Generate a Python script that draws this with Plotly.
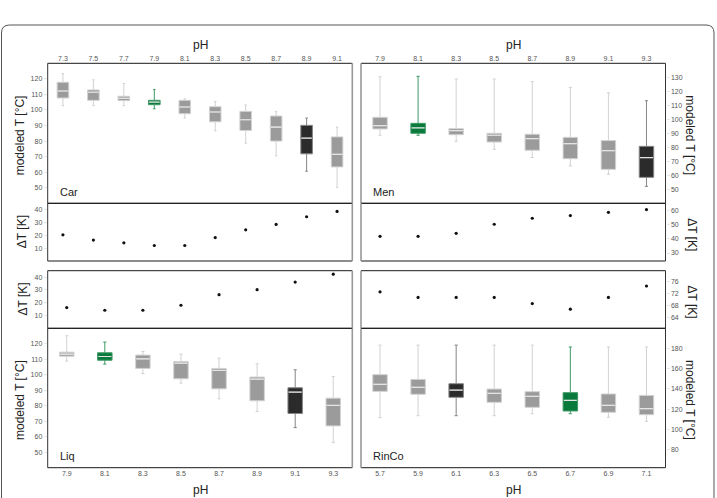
import plotly.graph_objects as go

# ---------------- DATA ----------------
car_ph = ["7.3", "7.5", "7.7", "7.9", "8.1", "8.3", "8.5", "8.7", "8.9", "9.1"]
car_hi = [123.4, 119.4, 117.0, 113.1, 107.1, 105.4, 103.2, 98.9, 94.8, 89.0]
car_q3 = [117.8, 112.9, 108.8, 106.2, 106.2, 102.1, 99.1, 96.1, 90.1, 82.7]
car_med = [112.2, 111.4, 107.5, 105.1, 101.9, 98.7, 93.7, 89.0, 81.9, 71.5]
car_q1 = [107.7, 106.2, 106.0, 103.4, 97.6, 92.4, 86.8, 80.0, 71.8, 63.4]
car_lo = [102.8, 102.8, 102.8, 100.8, 94.8, 86.6, 78.6, 70.5, 60.6, 50.2]
car_dt = [20.4, 16.3, 14.2, 12.1, 12.1, 18.3, 24.3, 28.5, 34.5, 38.7]
car_cls = ["g", "g", "g", "G", "g", "g", "g", "g", "d", "g"]

men_ph = ["7.9", "8.1", "8.3", "8.5", "8.7", "8.9", "9.1", "9.3"]
men_hi = [130.2, 130.5, 128.6, 128.6, 126.7, 122.6, 118.8, 113.1]
men_q3 = [101.3, 97.0, 93.2, 89.9, 89.2, 87.0, 84.7, 80.6]
men_med = [95.3, 93.7, 91.8, 88.5, 86.1, 82.5, 77.5, 72.6]
men_q1 = [93.0, 89.9, 88.9, 83.7, 77.8, 71.8, 64.2, 58.5]
men_lo = [88.5, 88.5, 84.2, 78.5, 72.6, 66.6, 60.7, 52.1]
men_dt = [41.7, 41.7, 43.8, 50.2, 54.4, 56.3, 58.6, 60.5]
men_cls = ["g", "G", "g", "g", "g", "g", "g", "d"]

liq_ph = ["7.9", "8.1", "8.3", "8.5", "8.7", "8.9", "9.1", "9.3"]
liq_hi = [125.2, 121.1, 115.0, 113.3, 110.7, 107.1, 103.2, 98.9]
liq_q3 = [114.6, 114.2, 112.7, 108.6, 104.1, 98.5, 91.6, 84.9]
liq_med = [113.3, 111.8, 110.3, 107.5, 102.8, 97.2, 88.8, 80.2]
liq_q1 = [112.0, 109.4, 104.1, 97.4, 90.9, 83.2, 75.0, 67.0]
liq_lo = [108.8, 106.9, 100.8, 94.6, 84.5, 76.3, 65.9, 56.2]
liq_dt = [16.2, 14.1, 14.1, 18.0, 26.3, 30.2, 36.1, 42.3]
liq_cls = ["g", "G", "g", "g", "g", "g", "d", "g"]

rin_ph = ["5.7", "5.9", "6.1", "6.3", "6.5", "6.7", "6.9", "7.1"]
rin_hi = [183.6, 183.6, 183.6, 183.6, 183.6, 181.7, 181.7, 181.7]
rin_q3 = [154.2, 149.5, 145.2, 139.9, 137.3, 136.3, 135.0, 133.6]
rin_med = [144.6, 141.6, 138.9, 135.6, 132.6, 128.7, 123.7, 120.4]
rin_q1 = [137.6, 134.7, 131.7, 126.7, 121.7, 118.1, 116.8, 114.4]
rin_lo = [111.5, 113.4, 113.4, 113.4, 115.4, 115.4, 111.8, 107.8]
rin_dt = [72.6, 70.7, 70.7, 70.7, 68.6, 66.7, 70.7, 74.6]
rin_cls = ["g", "g", "d", "g", "g", "G", "g", "g"]

# ---------------- STYLE ----------------
W, H = 717, 498
FONT = "Liberation Sans, Arial, sans-serif"
FILL = {"g": "#9b9b9b", "G": "#0a7a3c", "d": "#2b2b2b"}
WHISK = {"g": "#d2d2d2", "G": "#3f9a66", "d": "#858585"}
MEDC = "#e4e4e4"
BOXW = 0.38


def px(x):
    return x / W


def py(y):
    return 1 - y / H


LX = (47.7, 352.3)
RX = (361.0, 665.5)
R_TOPBOX = (63.3, 203.3)
R_TOPDT = (203.3, 261.0)
R_BOTDT = (270.7, 328.3)
R_BOTBOX = (328.3, 467.7)

fig = go.Figure()

panels = [
    dict(name="Car", ph=car_ph, hi=car_hi, q3=car_q3, med=car_med, q1=car_q1, lo=car_lo, dt=car_dt, cls=car_cls,
         xr=LX, brow=R_TOPBOX, drow=R_TOPDT, brange=[40, 130], bticks=list(range(50, 121, 10)),
         drange=[0, 45], dticks=[10, 20, 30, 40], side="left", xside="top"),
    dict(name="Men", ph=men_ph, hi=men_hi, q3=men_q3, med=men_med, q1=men_q1, lo=men_lo, dt=men_dt, cls=men_cls,
         xr=RX, brow=R_TOPBOX, drow=R_TOPDT, brange=[40, 139.8], bticks=list(range(50, 131, 10)),
         drange=[24.4, 64.9], dticks=[30, 40, 50, 60], side="right", xside="top"),
    dict(name="Liq", ph=liq_ph, hi=liq_hi, q3=liq_q3, med=liq_med, q1=liq_q1, lo=liq_lo, dt=liq_dt, cls=liq_cls,
         xr=LX, brow=R_BOTBOX, drow=R_BOTDT, brange=[40, 130], bticks=list(range(50, 121, 10)),
         drange=[0, 45], dticks=[10, 20, 30, 40], side="left", xside="bottom"),
    dict(name="RinCo", ph=rin_ph, hi=rin_hi, q3=rin_q3, med=rin_med, q1=rin_q1, lo=rin_lo, dt=rin_dt, cls=rin_cls,
         xr=RX, brow=R_BOTBOX, drow=R_BOTDT, brange=[61.7, 200.3], bticks=list(range(80, 181, 20)),
         drange=[60.2, 79.8], dticks=[64, 68, 72, 76], side="right", xside="bottom"),
]

layout = dict(
    width=W, height=H, margin=dict(l=0, r=0, t=0, b=0),
    paper_bgcolor="white", plot_bgcolor="white",
    showlegend=False, boxmode="overlay",
    font=dict(family=FONT, color="#333"),
    shapes=[], annotations=[],
)

tickfont = dict(family=FONT, size=7, color="#555")
titlefont = dict(family=FONT, size=12, color="#222")

for k, p in enumerate(panels):
    bx = 2 * k + 1
    dx = 2 * k + 2
    bxname = "x" if bx == 1 else f"x{bx}"
    byname = "y" if bx == 1 else f"y{bx}"
    dxname = f"x{dx}"
    dyname = f"y{dx}"
    n = len(p["ph"])
    pos = list(range(n))
    xdom = [px(p["xr"][0]), px(p["xr"][1])]

    for i in pos:
        c = p["cls"][i]
        fig.add_trace(go.Box(
            x=[i], q1=[p["q1"][i]], median=[p["med"][i]], q3=[p["q3"][i]],
            lowerfence=[p["lo"][i]], upperfence=[p["hi"][i]],
            width=BOXW, whiskerwidth=0.22, fillcolor=FILL[c],
            line=dict(color=WHISK[c], width=1), boxpoints=False,
            xaxis=bxname, yaxis=byname, hoverinfo="skip",
        ))
    mx, my = [], []
    for i in pos:
        mx += [i - BOXW / 2 + 0.02, i + BOXW / 2 - 0.02, None]
        my += [p["med"][i], p["med"][i], None]
    fig.add_trace(go.Scatter(x=mx, y=my, mode="lines", line=dict(color=MEDC, width=1.2),
                             xaxis=bxname, yaxis=byname, hoverinfo="skip"))
    fig.add_trace(go.Scatter(x=pos, y=p["dt"], mode="markers",
                             marker=dict(color="#111", size=3.2),
                             xaxis=dxname, yaxis=dyname, hoverinfo="skip"))

    bdom = sorted([py(p["brow"][0]), py(p["brow"][1])])
    ddom = sorted([py(p["drow"][0]), py(p["drow"][1])])

    common_x = dict(domain=xdom, range=[-0.5, n - 0.5], showgrid=False, zeroline=False,
                    showline=False, fixedrange=True)
    layout["xaxis" if bx == 1 else f"xaxis{bx}"] = dict(
        **common_x, anchor=byname, side=p["xside"], tickmode="array",
        tickvals=pos, ticktext=p["ph"], tickfont=tickfont, ticks="", ticklen=0)
    layout[f"xaxis{dx}"] = dict(**common_x, anchor=dyname, showticklabels=False, ticks="")

    common_y = dict(showgrid=False, zeroline=False, showline=False, fixedrange=True,
                    tickfont=tickfont, ticks="outside", ticklen=3, tickcolor="#e6e6e6",
                    side=p["side"], tickmode="array")
    layout["yaxis" if bx == 1 else f"yaxis{bx}"] = dict(
        **common_y, domain=bdom, anchor=bxname, range=p["brange"], tickvals=p["bticks"])
    layout[f"yaxis{dx}"] = dict(
        **common_y, domain=ddom, anchor=dxname, range=p["drange"], tickvals=p["dticks"])

    x0, x1 = p["xr"]
    for (y0, y1) in (p["brow"], p["drow"]):
        for yy in (y0, y1):
            layout["shapes"].append(dict(type="line", xref="paper", yref="paper",
                                         x0=px(x0), x1=px(x1), y0=py(yy), y1=py(yy),
                                         line=dict(color="#1a1a1a", width=1)))
        outer = x0 if p["side"] == "left" else x1
        inner = x1 if p["side"] == "left" else x0
        layout["shapes"].append(dict(type="line", xref="paper", yref="paper",
                                     x0=px(outer), x1=px(outer), y0=py(y0), y1=py(y1),
                                     line=dict(color="#333", width=1)))
        layout["shapes"].append(dict(type="line", xref="paper", yref="paper",
                                     x0=px(inner), x1=px(inner), y0=py(y0), y1=py(y1),
                                     line=dict(color="#999", width=1.6)))

    lab_y = 192 if p["xside"] == "top" else 455.5
    layout["annotations"].append(dict(text=p["name"], xref="paper", yref="paper",
                                      x=px(x0 + 10), y=py(lab_y), xanchor="left", yanchor="middle",
                                      showarrow=False, font=dict(family=FONT, size=11, color="#222")))
    ph_y = 44.5 if p["xside"] == "top" else 490
    layout["annotations"].append(dict(text="pH", xref="paper", yref="paper",
                                      x=px((x0 + x1) / 2), y=py(ph_y), xanchor="center", yanchor="middle",
                                      showarrow=False, font=titlefont))
    if p["side"] == "left":
        tx, ang, dtx = 20, -90, 22
    else:
        tx, ang, dtx = 690, 90, 692
    layout["annotations"].append(dict(text="modeled T [°C]", xref="paper", yref="paper",
                                      x=px(tx), y=py((p["brow"][0] + p["brow"][1]) / 2 + 2),
                                      xanchor="center", yanchor="middle", textangle=ang,
                                      showarrow=False, font=titlefont))
    layout["annotations"].append(dict(text="ΔT [K]", xref="paper", yref="paper",
                                      x=px(dtx), y=py((p["drow"][0] + p["drow"][1]) / 2 + (0 if p["side"] == "left" else 2)),
                                      xanchor="center", yanchor="middle", textangle=ang,
                                      showarrow=False, font=titlefont))

layout["shapes"].append(dict(
    type="path", xref="paper", yref="paper",
    path=f"M {px(1.5)} {py(498)} L {px(1.5)} {py(33)} Q {px(1.5)} {py(25)} {px(9.5)} {py(25)} "
         f"L {px(706)} {py(25)} Q {px(714)} {py(25)} {px(714)} {py(33)} L {px(714)} {py(498)}",
    line=dict(color="#555", width=1)))

fig.update_layout(**layout)
fig.write_html("out.html")
